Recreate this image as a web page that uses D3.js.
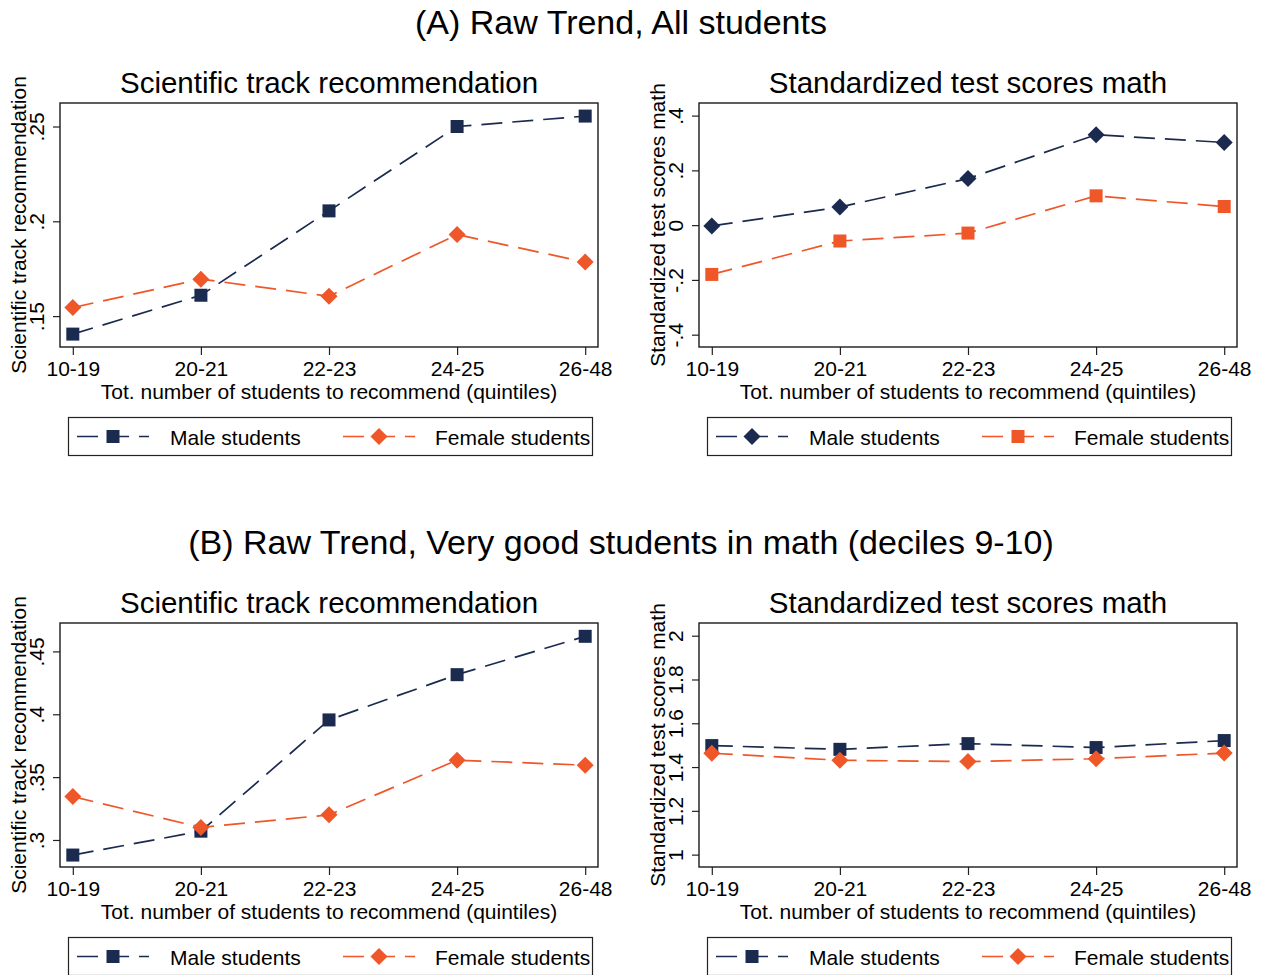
<!DOCTYPE html>
<html>
<head>
<meta charset="utf-8">
<script src="https://cdn.jsdelivr.net/npm/d3@7"></script>
<style>
  body { margin: 0; background: #fff; }
  svg { display: block; }
  text { font-family: "Liberation Sans", Arial, Helvetica, sans-serif; fill: #000; }
</style>
</head>
<body>
<svg id="chart" width="1267" height="975"></svg>
<script>
// quintile categories (x axis)
const categories = ["10-19", "20-21", "22-23", "24-25", "26-48"];

// (A) all students
const aSciMale   = [0.1405, 0.1610, 0.2055, 0.2500, 0.2555];
const aSciFemale = [0.1545, 0.1695, 0.1605, 0.1930, 0.1785];
const aMathMale   = [-0.003, 0.066, 0.170, 0.330, 0.302];
const aMathFemale = [-0.180, -0.058, -0.029, 0.107, 0.068];

// (B) very good students in math
const bSciMale   = [0.288, 0.307, 0.3955, 0.4315, 0.462];
const bSciFemale = [0.3345, 0.310, 0.320, 0.3635, 0.3595];
const bMathMale   = [1.498, 1.481, 1.507, 1.489, 1.521];
const bMathFemale = [1.463, 1.431, 1.425, 1.438, 1.464];

// y ticks
const aSciTicks  = [0.15, 0.2, 0.25];
const aMathTicks = [-0.4, -0.2, 0, 0.2, 0.4];
const bSciTicks  = [0.3, 0.35, 0.4, 0.45];
const bMathTicks = [1, 1.2, 1.4, 1.6, 1.8, 2];

const seriesNames = ["Male students", "Female students"];
const sectionTitles = ["(A) Raw Trend, All students", "(B) Raw Trend, Very good students in math (deciles 9-10)"];

const NAVY = "#1b2a4f";
const ORANGE = "#ef5628";
const W = 538, H = 244;

const svg = d3.select("#chart");

// Stata style labels: .25, -.2, 1.2 (plain hyphen for minus)
const fmt = d => d3.format("~g")(d).replace("\u2212", "-").replace(/^(-?)0\./, "$1.");

const panels = [
  { x0: 60,  y0: 103, title: "Scientific track recommendation", ytitle: "Scientific track recommendation",
    domain: [0.1337, 0.2624], ticks: aSciTicks, data: [aSciMale, aSciFemale], shapes: ["square", "diamond"] },
  { x0: 699, y0: 103, title: "Standardized test scores math", ytitle: "Standardized test scores math",
    domain: [-0.445, 0.446], ticks: aMathTicks, data: [aMathMale, aMathFemale], shapes: ["diamond", "square"] },
  { x0: 60,  y0: 623, title: "Scientific track recommendation", ytitle: "Scientific track recommendation",
    domain: [0.2785, 0.4726], ticks: bSciTicks, data: [bSciMale, bSciFemale], shapes: ["square", "diamond"] },
  { x0: 699, y0: 623, title: "Standardized test scores math", ytitle: "Standardized test scores math",
    domain: [0.9435, 2.058], ticks: bMathTicks, data: [bMathMale, bMathFemale], shapes: ["square", "diamond"] }
];

const colors = [NAVY, ORANGE];

function marker(g, shape, color, x, y) {
  if (shape === "square") {
    g.append("rect")
      .attr("x", x - 6.5).attr("y", y - 6.5)
      .attr("width", 13).attr("height", 13)
      .attr("fill", color);
  } else {
    const r = 8.5;
    g.append("path")
      .attr("d", `M${x},${y - r}L${x + r},${y}L${x},${y + r}L${x - r},${y}Z`)
      .attr("fill", color);
  }
}

// section titles
svg.append("text").attr("x", 621).attr("y", 34)
  .attr("text-anchor", "middle").style("font-size", "34px").text(sectionTitles[0]);
svg.append("text").attr("x", 621).attr("y", 554)
  .attr("text-anchor", "middle").style("font-size", "34px").text(sectionTitles[1]);

panels.forEach(p => {
  const g = svg.append("g").attr("transform", `translate(${p.x0},${p.y0})`);

  const x = d3.scalePoint().domain(categories).range([0, W]).padding(0.1);
  const y = d3.scaleLinear().domain(p.domain).range([H, 0]);

  // subplot title
  g.append("text").attr("x", W / 2).attr("y", -10.5)
    .attr("text-anchor", "middle").style("font-size", "29.5px").text(p.title);

  // y axis
  const ya = g.append("g")
    .call(d3.axisLeft(y).tickValues(p.ticks).tickFormat(fmt).tickSize(7));
  ya.select(".domain").remove();
  ya.selectAll(".tick line").attr("stroke", "#222").attr("stroke-width", 1.2);
  ya.selectAll(".tick text")
    .attr("x", null).attr("dy", null)
    .attr("transform", "translate(-16,0) rotate(-90)")
    .attr("text-anchor", "middle")
    .attr("fill", "#000")
    .style("font-size", "21px").style("font-family", null);

  // x axis
  const xa = g.append("g").attr("transform", `translate(0,${H})`)
    .call(d3.axisBottom(x).tickSize(8));
  xa.select(".domain").remove();
  xa.selectAll(".tick line").attr("stroke", "#222").attr("stroke-width", 1.2);
  xa.selectAll(".tick text")
    .attr("y", 29).attr("dy", null)
    .attr("fill", "#000")
    .style("font-size", "21px").style("font-family", null);

  // axis titles
  g.append("text")
    .attr("transform", `translate(${-34},${H / 2}) rotate(-90)`)
    .attr("text-anchor", "middle").style("font-size", "21px").text(p.ytitle);
  g.append("text").attr("x", W / 2).attr("y", H + 52)
    .attr("text-anchor", "middle").style("font-size", "21px")
    .text("Tot. number of students to recommend (quintiles)");

  // frame
  g.append("rect").attr("x", 0).attr("y", 0).attr("width", W).attr("height", H)
    .attr("fill", "none").attr("stroke", "#1a1a1a").attr("stroke-width", 1.4);

  // series
  const line = d3.line().x((d, i) => x(categories[i])).y(d => y(d));
  p.data.forEach((vals, s) => {
    g.append("path").datum(vals)
      .attr("d", line)
      .attr("fill", "none")
      .attr("stroke", colors[s])
      .attr("stroke-width", 1.7)
      .attr("stroke-dasharray", "21,10");
    vals.forEach((v, i) => marker(g, p.shapes[s], colors[s], x(categories[i]), y(v)));
  });

  // legend
  const lg = g.append("g").attr("transform", `translate(8.5,${314.5})`);
  lg.append("rect").attr("width", 524).attr("height", 38)
    .attr("fill", "#fff").attr("stroke", "#222").attr("stroke-width", 1.2);
  const keyX = [8.5, 274.5];
  const textX = [101.5, 366.5];
  seriesNames.forEach((name, s) => {
    lg.append("line")
      .attr("x1", keyX[s]).attr("x2", keyX[s] + 72)
      .attr("y1", 19).attr("y2", 19)
      .attr("stroke", colors[s]).attr("stroke-width", 1.6)
      .attr("stroke-dasharray", "21,10");
    marker(lg, p.shapes[s], colors[s], keyX[s] + 36, 19);
    lg.append("text").attr("x", textX[s]).attr("y", 27)
      .style("font-size", "21px").text(name);
  });
});
</script>
</body>
</html>
